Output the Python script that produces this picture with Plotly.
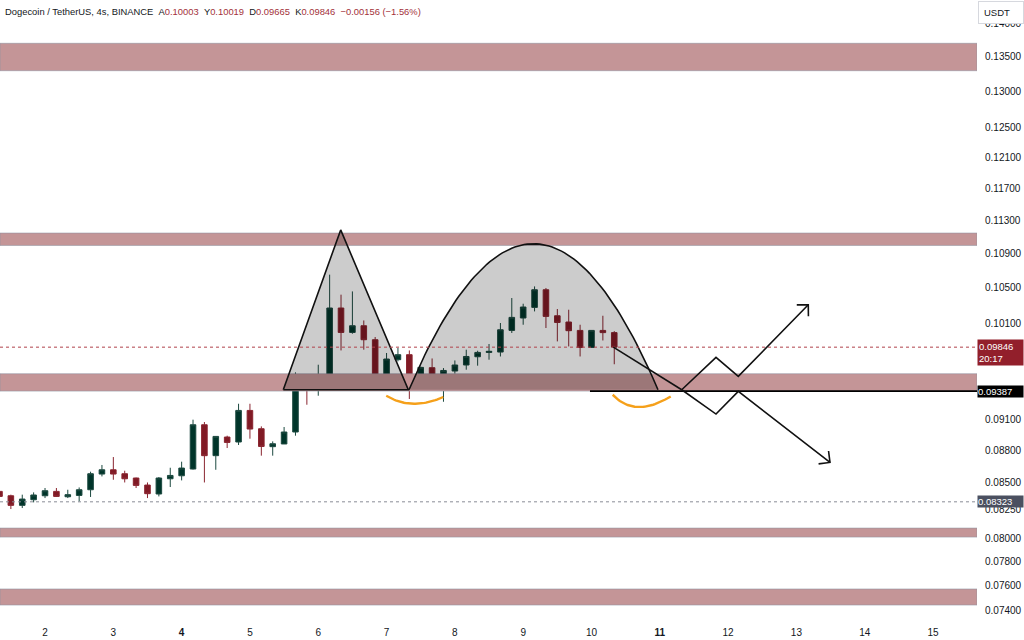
import math
import numpy as np
import pandas as pd
import plotly.graph_objects as go

# ---------------- data ----------------
candle_start = "2024-03-01 08:00"
candle_count = 55
candle_time = pd.date_range(candle_start, periods=candle_count, freq="4h")

opens = [0.08418, 0.08378, 0.08291, 0.08342, 0.08378, 0.08418, 0.08369, 0.08381, 0.08433, 0.08578,
         0.08618, 0.08581, 0.08541, 0.08476, 0.08394, 0.08534, 0.08562, 0.08625, 0.09050, 0.08751,
         0.08930, 0.08882, 0.09192, 0.09011, 0.08837, 0.08863, 0.08979, 0.09480, 0.09435, 0.09497,
         0.10274, 0.10005, 0.10078, 0.09926, 0.09486, 0.09713, 0.09766, 0.09442, 0.09629, 0.09396,
         0.09594, 0.09657, 0.09744, 0.09790, 0.09794, 0.10027, 0.10163, 0.10281, 0.10480, 0.10188,
         0.10119, 0.10027, 0.09843, 0.10027, 0.10003]
highs = [0.08458, 0.08388, 0.08388, 0.08409, 0.08449, 0.08449, 0.08433, 0.08454, 0.08600, 0.08663,
         0.08738, 0.08609, 0.08545, 0.08500, 0.08550, 0.08637, 0.08694, 0.09100, 0.09077, 0.08936,
         0.08943, 0.09259, 0.09259, 0.09034, 0.08888, 0.09028, 0.09580, 0.09521, 0.09660, 0.10653,
         0.10424, 0.10461, 0.10136, 0.09955, 0.09784, 0.09837, 0.09811, 0.09640, 0.09726, 0.09625,
         0.09705, 0.09819, 0.09808, 0.09880, 0.10108, 0.10386, 0.10322, 0.10518, 0.10500, 0.10263,
         0.10255, 0.10089, 0.10027, 0.10188, 0.10019]
lows = [0.08360, 0.08258, 0.08267, 0.08318, 0.08357, 0.08367, 0.08357, 0.08327, 0.08367, 0.08556,
        0.08525, 0.08500, 0.08449, 0.08357, 0.08372, 0.08458, 0.08519, 0.08620, 0.08500, 0.08618,
        0.08824, 0.08853, 0.08914, 0.08751, 0.08751, 0.08863, 0.08943, 0.09249, 0.09340, 0.09497,
        0.09811, 0.09991, 0.09819, 0.09435, 0.09470, 0.09695, 0.09307, 0.09391, 0.09396, 0.09279,
        0.09566, 0.09608, 0.09650, 0.09713, 0.09747, 0.09999, 0.10089, 0.10236, 0.10053, 0.09908,
        0.09854, 0.09747, 0.09843, 0.09918, 0.09665]
closes = [0.08372, 0.08291, 0.08348, 0.08385, 0.08424, 0.08372, 0.08388, 0.08433, 0.08581, 0.08618,
          0.08578, 0.08534, 0.08473, 0.08397, 0.08541, 0.08565, 0.08634, 0.09050, 0.08751, 0.08936,
          0.08878, 0.09192, 0.09008, 0.08839, 0.08865, 0.08979, 0.09476, 0.09435, 0.09504, 0.10274,
          0.10005, 0.10078, 0.09926, 0.09493, 0.09720, 0.09766, 0.09442, 0.09632, 0.09396, 0.09600,
          0.09657, 0.09747, 0.09790, 0.09801, 0.10034, 0.10170, 0.10285, 0.10480, 0.10181, 0.10114,
          0.10024, 0.09843, 0.10027, 0.10003, 0.09846]

header_change = "\u22120.00156"
header_change_pct = "\u22121.56%"
countdown = "20:17"

# horizontal zones (price bottom / top)
zone_low = [0.13296, 0.10997, 0.09387, 0.08010, 0.07440]
zone_high = [0.13698, 0.11146, 0.09566, 0.08089, 0.07571]

last_price = 0.09846
support_price = 0.09387
marker_price = 0.08323
support_line_start = "2024-03-09 23:28"

y_tick_values = [0.140, 0.135, 0.130, 0.125, 0.121, 0.117, 0.113, 0.109, 0.105, 0.101,
                 0.091, 0.088, 0.085, 0.0825, 0.080, 0.078, 0.076, 0.074]
x_tick_days = [2, 3, 4, 5, 6, 7, 8, 9, 10, 11, 12, 13, 14, 15]
x_bold_days = [4, 11]

# drawings (time, price)
triangle_time = ["2024-03-05 11:43", "2024-03-06 07:53", "2024-03-07 07:38"]
triangle_price = [0.09401, 0.11184, 0.09401]

arc_left_time, arc_right_time = "2024-03-07 07:53", "2024-03-10 23:22"
arc_base_price, arc_top_price = 0.09401, 0.11017

smile1_time = ["2024-03-06 23:53", "2024-03-07 09:24", "2024-03-07 19:56"]
smile1_price = [0.09340, 0.09259, 0.09327]
smile2_time = ["2024-03-10 07:27", "2024-03-10 16:27", "2024-03-11 03:50"]
smile2_price = [0.09350, 0.09226, 0.09333]

drop_time = ["2024-03-10 07:40", "2024-03-11 07:42"]
drop_price = [0.09846, 0.09401]
up_path_time = ["2024-03-11 07:42", "2024-03-11 19:45", "2024-03-12 03:35", "2024-03-13 04:10"]
up_path_price = [0.09401, 0.09737, 0.09538, 0.10311]
down_path_time = ["2024-03-11 07:42", "2024-03-11 19:45", "2024-03-12 03:35", "2024-03-13 11:48"]
down_path_price = [0.09401, 0.09156, 0.09384, 0.08687]

# ---------------- layout geometry ----------------
W, H = 1024, 640
PLOT_W, PLOT_H = 977, 615
X_RANGE = ["2024-03-01 08:11", "2024-03-15 15:27"]
Y_RANGE = [0.073599, 0.143579]

FONT = "Liberation Sans"
TXT = "#131722"
RED_TXT = "#a3313a"


def ms(t):
    return pd.Timestamp(t).value / 1e6


def to_dt(vals):
    return pd.to_datetime(np.asarray(vals), unit="ms")


x0_ms, x1_ms = ms(X_RANGE[0]), ms(X_RANGE[1])
px_per_ms = PLOT_W / (x1_ms - x0_ms)
px_per_dec = PLOT_H / (math.log10(Y_RANGE[1]) - math.log10(Y_RANGE[0]))

fig = go.Figure()

# zones
for lo, hi in zip(zone_low, zone_high):
    fig.add_trace(go.Scatter(
        x=[X_RANGE[0], X_RANGE[1], X_RANGE[1], X_RANGE[0], X_RANGE[0]],
        y=[lo, lo, hi, hi, lo], mode="lines", fill="toself",
        fillcolor="#c49597", line=dict(color="rgba(140,145,160,0.55)", width=1),
        hoverinfo="skip", showlegend=False))

# triangle
fig.add_trace(go.Scatter(
    x=triangle_time + [triangle_time[0]], y=triangle_price + [triangle_price[0]],
    mode="lines", fill="toself", fillcolor="rgba(0,0,0,0.2)",
    line=dict(color="#111111", width=1.6), hoverinfo="skip", showlegend=False))

# arc (parabolic dome)
a0, a1 = ms(arc_left_time), ms(arc_right_time)
mid, half = (a0 + a1) / 2, (a1 - a0) / 2
tt = np.linspace(a0, a1, 81)
lb, lt = math.log10(arc_base_price), math.log10(arc_top_price)
arc_y = 10 ** (lb + (lt - lb) * (1 - ((tt - mid) / half) ** 2))
fig.add_trace(go.Scatter(
    x=to_dt(tt), y=arc_y, mode="lines", fill="toself", fillcolor="rgba(0,0,0,0.2)",
    line=dict(width=0, color="rgba(0,0,0,0)"), hoverinfo="skip", showlegend=False))
fig.add_trace(go.Scatter(
    x=to_dt(tt), y=arc_y, mode="lines", line=dict(color="#111111", width=1.6),
    hoverinfo="skip", showlegend=False))

# dotted reference lines
fig.add_trace(go.Scatter(x=X_RANGE, y=[marker_price, marker_price], mode="lines",
                         line=dict(color="#8a8d96", width=1, dash="dot"),
                         hoverinfo="skip", showlegend=False))
fig.add_trace(go.Scatter(x=X_RANGE, y=[last_price, last_price], mode="lines",
                         line=dict(color="#b0424b", width=1, dash="dot"),
                         hoverinfo="skip", showlegend=False))

# candles
fig.add_trace(go.Candlestick(
    x=candle_time, open=opens, high=highs, low=lows, close=closes,
    increasing=dict(line=dict(color="#1d4a40", width=1), fillcolor="#00352a"),
    decreasing=dict(line=dict(color="#8a2530", width=1), fillcolor="#801a25"),
    whiskerwidth=0, hoverinfo="skip", showlegend=False))

# support line
fig.add_trace(go.Scatter(x=[support_line_start, X_RANGE[1]], y=[support_price, support_price],
                         mode="lines", line=dict(color="#000000", width=1.6),
                         hoverinfo="skip", showlegend=False))


# orange smiles (quadratic curve through three points)
def smile(times, prices):
    P = np.array([[ms(t), math.log10(p)] for t, p in zip(times, prices)])
    c = 2 * P[1] - (P[0] + P[2]) / 2
    s = np.linspace(0, 1, 40)[:, None]
    pts = (1 - s) ** 2 * P[0] + 2 * (1 - s) * s * c + s ** 2 * P[2]
    return to_dt(pts[:, 0]), 10 ** pts[:, 1]


for tms, prs in [(smile1_time, smile1_price), (smile2_time, smile2_price)]:
    sx, sy = smile(tms, prs)
    fig.add_trace(go.Scatter(x=sx, y=sy, mode="lines", line=dict(color="#f5a01a", width=2.4),
                             hoverinfo="skip", showlegend=False))

# black paths
for tms, prs in [(drop_time, drop_price), (up_path_time, up_path_price), (down_path_time, down_path_price)]:
    fig.add_trace(go.Scatter(x=tms, y=prs, mode="lines", line=dict(color="#111111", width=1.6),
                             hoverinfo="skip", showlegend=False))


def chevron(t_from, p_from, t_tip, p_tip, length=11.5, ang=45):
    dx = (ms(t_tip) - ms(t_from)) * px_per_ms
    dy = (math.log10(p_tip) - math.log10(p_from)) * px_per_dec
    n = math.hypot(dx, dy)
    bx, by = -dx / n, -dy / n
    xs, ys = [], []
    for sgn in (1, -1):
        a = math.radians(ang * sgn)
        rx = bx * math.cos(a) - by * math.sin(a)
        ry = bx * math.sin(a) + by * math.cos(a)
        xs.append(ms(t_tip) + rx * length / px_per_ms)
        ys.append(10 ** (math.log10(p_tip) + ry * length / px_per_dec))
    return to_dt([xs[0], ms(t_tip), xs[1]]), [ys[0], p_tip, ys[1]]


for tms, prs in [(up_path_time, up_path_price), (down_path_time, down_path_price)]:
    cx, cy = chevron(tms[-2], prs[-2], tms[-1], prs[-1])
    fig.add_trace(go.Scatter(x=cx, y=cy, mode="lines", line=dict(color="#111111", width=1.6),
                             hoverinfo="skip", showlegend=False))

# ---------------- axes ----------------
tick_dates = [pd.Timestamp(f"2024-03-{d:02d}") for d in x_tick_days]
tick_text = [f"<b>{d}</b>" if d in x_bold_days else str(d) for d in x_tick_days]

fig.update_layout(
    width=W, height=H,
    margin=dict(l=0, r=W - PLOT_W, t=0, b=H - PLOT_H),
    paper_bgcolor="white", plot_bgcolor="white",
    font=dict(family=FONT, size=10, color=TXT),
    showlegend=False, hovermode=False,
    xaxis=dict(type="date", range=X_RANGE, tickvals=tick_dates, ticktext=tick_text,
               showgrid=False, zeroline=False, showline=False, ticks="",
               ticklabelstandoff=10, rangeslider=dict(visible=False),
               tickfont=dict(family=FONT, size=10, color=TXT)),
    yaxis=dict(type="log", side="right",
               range=[math.log10(Y_RANGE[0]), math.log10(Y_RANGE[1])],
               tickvals=y_tick_values, ticktext=[f"{v:.5f}" for v in y_tick_values],
               showgrid=False, zeroline=False, showline=False, ticks="",
               ticklabelstandoff=7, tickfont=dict(family=FONT, size=10, color=TXT)),
)

# header
o, h, l, c = opens[-1], highs[-1], lows[-1], closes[-1]
sp = "\u00a0\u00a0"
red = lambda s: f"<span style='color:{RED_TXT}'>{s}</span>"
header = ("Dogecoin / TetherUS, 4s, BINANCE" + sp +
          "A" + red(f"{o:.5f}") + sp + "Y" + red(f"{h:.5f}") + sp +
          "D" + red(f"{l:.5f}") + sp + "K" + red(f"{c:.5f}") + sp +
          red(f"{header_change} ({header_change_pct})"))
fig.add_annotation(xref="paper", yref="paper", x=0, y=1, xanchor="left", yanchor="top",
                   xshift=3, yshift=-4, text=header, showarrow=False, align="left",
                   font=dict(family=FONT, size=9.4, color=TXT))

# USDT box
fig.add_annotation(xref="paper", yref="paper", x=1, y=1, xanchor="left", yanchor="top",
                   xshift=1, yshift=-1, text="USDT", showarrow=False,
                   bgcolor="white", bordercolor="#d6d8de", borderwidth=1, borderpad=5,
                   width=34, align="left", font=dict(family=FONT, size=9.5, color=TXT))

# price labels on the scale
fig.add_annotation(xref="paper", yref="y", x=1, y=math.log10(last_price), xanchor="left",
                   yanchor="middle", yshift=-5, text=f"{last_price:.5f}<br>{countdown}",
                   showarrow=False, bgcolor="#921f2b", borderpad=1, width=43, align="left",
                   font=dict(family=FONT, size=9.5, color="white"))
fig.add_annotation(xref="paper", yref="y", x=1, y=math.log10(support_price), xanchor="left",
                   yanchor="middle", text=f"{support_price:.5f}", showarrow=False,
                   bgcolor="#000000", borderpad=0, width=45, align="left",
                   font=dict(family=FONT, size=9.5, color="white"))
fig.add_annotation(xref="paper", yref="y", x=1, y=math.log10(marker_price), xanchor="left",
                   yanchor="middle", text=f"{marker_price:.5f}", showarrow=False,
                   bgcolor="#4b5060", borderpad=0, width=45, align="left",
                   font=dict(family=FONT, size=9.5, color="white"))

fig.write_html("out.html")
